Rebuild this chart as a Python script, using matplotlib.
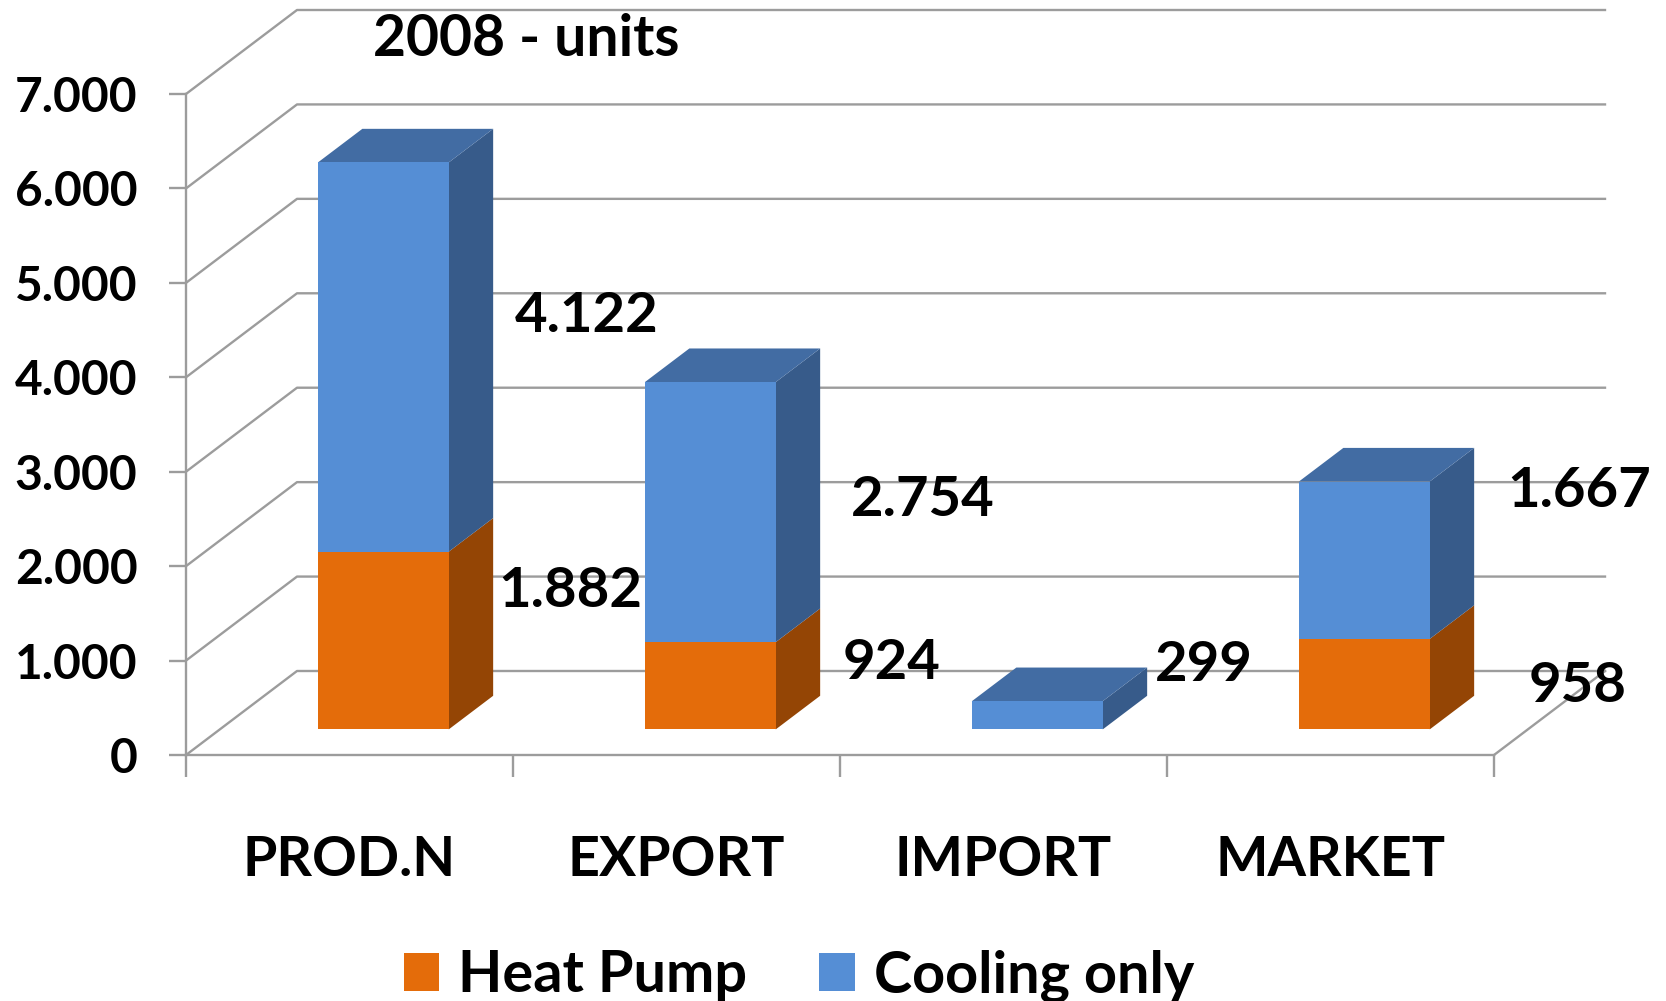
import matplotlib
matplotlib.use("Agg")
import matplotlib.pyplot as plt
from matplotlib.patches import Polygon

W = 1666
H = 1001

CATEGORIES = ["PROD.N", "EXPORT", "IMPORT", "MARKET"]
HEAT_PUMP = [1882, 924, 0, 958]
COOLING_ONLY = [4122, 2754, 299, 1667]
Y_TICKS = [0, 1000, 2000, 3000, 4000, 5000, 6000, 7000]
Y_LABELS = ["0", "1.000", "2.000", "3.000", "4.000", "5.000", "6.000", "7.000"]
HEAT_LABELS = ["1.882", "924", "", "958"]
COOL_LABELS = ["4.122", "2.754", "299", "1.667"]

# label centres in pixels of the full image, excel put them by hand
HEAT_POS = [(570, 591), (892, 663), None, (1578, 686)]
COOL_POS = [(587, 316), (923, 500), (1204, 665), (1579, 491)]

GRID = "#9c9c9c"
ORANGE = ["#E46C0A", "#944505"]
BLUE = ["#558ED5", "#375B8A", "#426CA3"]

# one unit of depth on the fake 3d floor, in data units
DX = 111 / 327
DY = 84 / (661 / 7000)
D0 = 0.305
D1 = 0.705
BAR_W = 0.4
LW = 1.7

plt.rcParams["font.family"] = ["Lato", "DejaVu Sans"]
plt.rcParams["font.weight"] = "bold"

fig = plt.figure(figsize=(W / 100, H / 100), dpi=100)
ax = fig.add_axes([186 / W, 1 - 755 / H, (1494 - 186) / W, 661 / H])
ax.set_xlim(0, len(CATEGORIES))
ax.set_ylim(0, 7000)


def side_and_top(x, y0, y1, colors):
    left = x - BAR_W / 2 + D0 * DX
    right = left + BAR_W
    bo = y0 + D0 * DY
    to = y1 + D0 * DY
    ddx = (D1 - D0) * DX
    ddy = (D1 - D0) * DY
    ax.add_patch(Polygon([(right, bo), (right + ddx, bo + ddy), (right + ddx, to + ddy), (right, to)],
                         color=colors[1], lw=0, zorder=3, clip_on=False))
    if len(colors) > 2:
        ax.add_patch(Polygon([(left, to), (left + ddx, to + ddy), (right + ddx, to + ddy), (right, to)],
                             color=colors[2], lw=0, zorder=3, clip_on=False))


# walls
for v in Y_TICKS:
    ax.plot([0, DX, len(CATEGORIES) + DX], [v, v + DY, v + DY], color=GRID, lw=LW, zorder=1, clip_on=False)
ax.plot([len(CATEGORIES), len(CATEGORIES) + DX], [0, DY], color=GRID, lw=LW, zorder=1, clip_on=False)

# bars
for i in range(len(CATEGORIES)):
    x = i + 0.5
    if HEAT_PUMP[i] > 0:
        side_and_top(x, 0, HEAT_PUMP[i], ORANGE)
    side_and_top(x, HEAT_PUMP[i], HEAT_PUMP[i] + COOLING_ONLY[i], BLUE)

xs = [i + 0.5 + D0 * DX for i in range(len(CATEGORIES))]
base = D0 * DY
h1 = ax.bar(xs, HEAT_PUMP, BAR_W, bottom=base, color=ORANGE[0], zorder=4, clip_on=False, label="Heat Pump")
h2 = ax.bar(xs, COOLING_ONLY, BAR_W, bottom=[base + v for v in HEAT_PUMP], color=BLUE[0], zorder=4,
            clip_on=False, label="Cooling only")

for s in ["top", "right"]:
    ax.spines[s].set_visible(False)
for s in ["left", "bottom"]:
    ax.spines[s].set_color(GRID)
    ax.spines[s].set_linewidth(LW)

ax.set_yticks(Y_TICKS, Y_LABELS)
ax.tick_params(axis="y", length=12, width=LW, color=GRID, pad=23, labelsize=34.5)
ax.set_xticks(range(len(CATEGORIES) + 1), [""] * (len(CATEGORIES) + 1))
ax.tick_params(axis="x", which="major", length=16, width=LW, color=GRID)
ax.set_xticks([i + 0.5 for i in range(len(CATEGORIES))], CATEGORIES, minor=True)
ax.tick_params(axis="x", which="minor", length=0, pad=57.5, labelsize=40)

for lab, pos in zip(HEAT_LABELS + COOL_LABELS, HEAT_POS + COOL_POS):
    if pos is None:
        continue
    fig.text(pos[0] / W, 1 - pos[1] / H, lab, ha="center", va="center", fontsize=40.5, color="black", zorder=6)

fig.text(526 / W, 1 - 39 / H, "2008 - units", ha="center", va="center", fontsize=41, color="black")

fig.legend(handles=[h1, h2], loc="center", bbox_to_anchor=(799 / W, 1 - 976 / H), ncol=2, frameon=False,
           fontsize=41.5, handlelength=0.62, handleheight=0.62, handletextpad=0.33, columnspacing=1.25,
           borderpad=0, borderaxespad=0)

fig.savefig("out.png", dpi=100)
